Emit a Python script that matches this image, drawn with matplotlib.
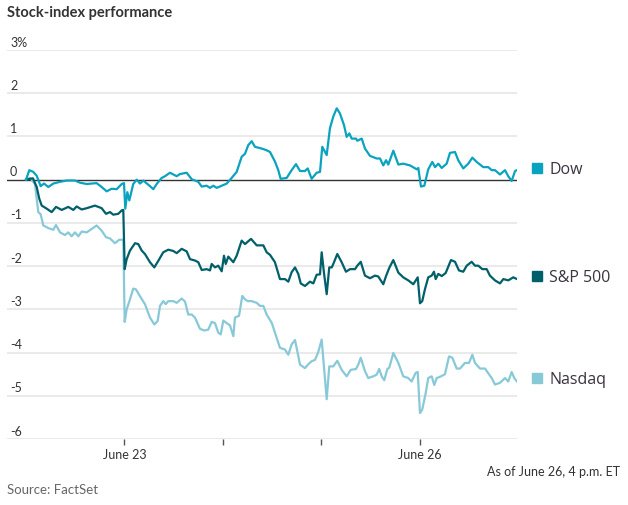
import matplotlib
matplotlib.use("Agg")
import matplotlib.pyplot as plt
import matplotlib.transforms as mtransforms
import numpy as np

# x positions are in trading days since the June 22 close (ticks at day boundaries)
dow_t = [0.0, 0.034, 0.074, 0.109, 0.149, 0.183, 0.227, 0.277, 0.346, 0.414,
         0.498, 0.549, 0.617, 0.718, 0.769, 0.820, 0.871, 0.922, 0.973, 0.996,
         1.009, 1.030, 1.050, 1.090, 1.125, 1.159, 1.192, 1.260, 1.294, 1.328,
         1.379, 1.413, 1.463, 1.532, 1.565, 1.633, 1.684, 1.751, 1.786, 1.836,
         1.870, 1.904, 1.938, 1.989, 2.040, 2.090, 2.141, 2.192, 2.226, 2.259,
         2.294, 2.327, 2.395, 2.446, 2.480, 2.530, 2.564, 2.588, 2.649, 2.700,
         2.744, 2.785, 2.835, 2.863, 2.903, 2.954, 2.988, 3.011, 3.056, 3.089,
         3.123, 3.158, 3.191, 3.232, 3.259, 3.286, 3.310, 3.354, 3.367, 3.412,
         3.445, 3.496, 3.564, 3.598, 3.631, 3.659, 3.682, 3.733, 3.784, 3.834,
         3.902, 3.971, 3.987, 4.014, 4.048, 4.088, 4.129, 4.157, 4.190, 4.225,
         4.275, 4.309, 4.360, 4.393, 4.444, 4.495, 4.536, 4.580, 4.647, 4.698,
         4.733, 4.766, 4.817, 4.868, 4.901, 4.936, 4.970, 4.990]
dow_v = [0.0, 0.22, 0.18, 0.09, -0.15, -0.09, -0.17, -0.09, -0.05, -0.02,
         -0.02, -0.07, -0.10, -0.08, -0.17, -0.27, -0.21, -0.22, -0.10, -0.08,
         -0.67, -0.29, -0.48, -0.10, 0.0, -0.09, -0.02, -0.15, -0.22, -0.10,
         0.04, 0.08, 0.16, 0.08, 0.13, 0.16, 0.01, -0.05, -0.16, -0.14,
         -0.19, -0.14, -0.19, -0.14, -0.09, 0.04, 0.18, 0.53, 0.60, 0.80,
         0.89, 0.76, 0.72, 0.68, 0.64, 0.42, 0.22, 0.02, 0.04, 0.22,
         0.36, 0.20, 0.20, 0.26, 0.02, 0.16, 0.18, 0.76, 0.57, 1.19,
         1.46, 1.65, 1.53, 1.26, 0.99, 1.07, 0.95, 0.95, 0.90, 0.95,
         0.72, 0.55, 0.49, 0.49, 0.33, 0.45, 0.35, 0.67, 0.35, 0.37,
         0.33, 0.24, 0.27, -0.16, -0.14, 0.24, 0.41, 0.29, 0.37, 0.27,
         0.37, 0.62, 0.64, 0.45, 0.26, 0.37, 0.51, 0.41, 0.29, 0.29,
         0.22, 0.22, 0.12, 0.22, 0.08, -0.03, 0.20, 0.22]

spx_t = [0.0, 0.041, 0.071, 0.109, 0.135, 0.160, 0.210, 0.261, 0.305, 0.363,
         0.430, 0.481, 0.515, 0.566, 0.617, 0.701, 0.769, 0.813, 0.854, 0.887,
         0.938, 0.973, 0.989, 1.003, 1.023, 1.057, 1.108, 1.141, 1.176, 1.209,
         1.260, 1.304, 1.344, 1.395, 1.446, 1.497, 1.532, 1.582, 1.633, 1.667,
         1.717, 1.751, 1.786, 1.836, 1.870, 1.887, 1.921, 1.954, 1.989, 2.012,
         2.030, 2.056, 2.107, 2.141, 2.192, 2.226, 2.287, 2.345, 2.412, 2.446,
         2.480, 2.530, 2.581, 2.632, 2.666, 2.700, 2.734, 2.767, 2.792, 2.835,
         2.886, 2.920, 2.954, 2.988, 3.005, 3.028, 3.056, 3.082, 3.107, 3.123,
         3.164, 3.208, 3.252, 3.293, 3.344, 3.367, 3.402, 3.445, 3.496, 3.547,
         3.580, 3.631, 3.659, 3.692, 3.733, 3.784, 3.834, 3.885, 3.936, 3.981,
         4.004, 4.027, 4.055, 4.088, 4.123, 4.146, 4.164, 4.190, 4.225, 4.265,
         4.319, 4.360, 4.400, 4.444, 4.479, 4.529, 4.563, 4.597, 4.637, 4.682,
         4.715, 4.766, 4.817, 4.851, 4.901, 4.952, 4.990]
spx_v = [0.0, 0.02, 0.03, -0.17, -0.44, -0.60, -0.67, -0.75, -0.63, -0.70,
         -0.63, -0.70, -0.62, -0.69, -0.66, -0.60, -0.66, -0.79, -0.75, -0.81,
         -0.79, -0.71, -0.70, -2.07, -1.84, -1.64, -1.47, -1.49, -1.64, -1.72,
         -1.91, -2.03, -1.88, -1.68, -1.62, -1.65, -1.70, -1.60, -1.66, -1.84,
         -1.87, -1.91, -2.09, -2.07, -2.10, -1.95, -2.03, -1.99, -2.12, -1.76,
         -1.95, -1.78, -1.91, -1.76, -1.41, -1.49, -1.37, -1.52, -1.52, -1.68,
         -1.74, -1.91, -2.30, -2.30, -2.36, -2.14, -2.03, -2.18, -2.40, -2.46,
         -2.36, -2.40, -2.20, -2.19, -1.68, -2.15, -2.65, -2.03, -2.03, -1.95,
         -1.72, -1.91, -2.13, -2.07, -2.07, -1.99, -1.90, -2.22, -2.28, -2.22,
         -2.24, -2.42, -2.23, -2.04, -1.86, -2.15, -2.26, -2.33, -2.42, -2.26,
         -2.86, -2.81, -2.53, -2.26, -2.22, -2.13, -2.30, -2.18, -2.23, -2.16,
         -1.86, -1.90, -2.10, -2.13, -1.99, -1.90, -1.99, -1.99, -2.07, -2.07,
         -2.22, -2.33, -2.40, -2.30, -2.33, -2.26, -2.30]

ndq_t = [0.0, 0.041, 0.091, 0.125, 0.149, 0.176, 0.227, 0.277, 0.305, 0.346,
         0.396, 0.430, 0.464, 0.498, 0.532, 0.566, 0.617, 0.668, 0.718, 0.769,
         0.813, 0.854, 0.904, 0.948, 0.989, 1.003, 1.023, 1.057, 1.090, 1.118,
         1.159, 1.209, 1.260, 1.304, 1.338, 1.362, 1.395, 1.420, 1.446, 1.497,
         1.532, 1.582, 1.616, 1.649, 1.684, 1.717, 1.768, 1.812, 1.852, 1.887,
         1.921, 1.954, 1.979, 2.005, 2.040, 2.073, 2.107, 2.124, 2.165, 2.198,
         2.226, 2.253, 2.294, 2.345, 2.378, 2.412, 2.446, 2.497, 2.530, 2.581,
         2.632, 2.666, 2.700, 2.734, 2.785, 2.835, 2.869, 2.903, 2.937, 2.970,
         3.005, 3.028, 3.056, 3.082, 3.123, 3.164, 3.208, 3.259, 3.300, 3.354,
         3.377, 3.402, 3.445, 3.478, 3.529, 3.564, 3.590, 3.615, 3.641, 3.672,
         3.692, 3.733, 3.784, 3.834, 3.885, 3.919, 3.960, 3.981, 4.004, 4.027,
         4.062, 4.088, 4.123, 4.149, 4.174, 4.218, 4.258, 4.299, 4.333, 4.377,
         4.411, 4.461, 4.502, 4.536, 4.563, 4.614, 4.665, 4.698, 4.733, 4.766,
         4.817, 4.868, 4.901, 4.936, 4.962, 4.990]
ndq_v = [0.0, 0.04, -0.10, -0.75, -0.80, -1.06, -1.12, -1.16, -1.05, -1.22,
         -1.28, -1.22, -1.31, -1.22, -1.31, -1.20, -1.22, -1.14, -1.06, -1.18,
         -1.33, -1.36, -1.47, -1.39, -1.39, -3.29, -3.00, -2.77, -2.52, -2.54,
         -2.70, -2.88, -3.19, -3.35, -3.27, -2.92, -2.81, -2.88, -2.81, -2.81,
         -2.85, -2.75, -2.82, -3.12, -3.12, -3.19, -3.45, -3.49, -3.47, -3.29,
         -3.32, -3.54, -3.58, -3.26, -3.32, -3.37, -3.62, -3.19, -3.15, -2.69,
         -2.77, -2.81, -2.81, -2.85, -2.92, -2.92, -3.12, -3.31, -3.54, -3.89,
         -3.93, -4.05, -3.81, -3.71, -4.28, -4.36, -4.27, -4.20, -4.17, -3.99,
         -3.70, -4.32, -5.08, -4.32, -4.32, -4.19, -4.40, -4.55, -4.40, -4.38,
         -4.28, -4.12, -4.43, -4.59, -4.55, -4.51, -4.38, -4.55, -4.64, -4.38,
         -4.35, -4.01, -4.24, -4.55, -4.59, -4.67, -4.47, -4.45, -5.40, -5.32,
         -4.94, -4.59, -4.55, -4.75, -4.59, -4.55, -4.50, -4.09, -4.12, -4.37,
         -4.37, -4.24, -4.24, -4.05, -4.24, -4.37, -4.37, -4.48, -4.59, -4.74,
         -4.70, -4.59, -4.67, -4.45, -4.59, -4.67]

series_names = ["Dow", "S&P 500", "Nasdaq"]
series_colors = ["#0aa3bf", "#00606a", "#88c9d8"]

y_ticks = [3, 2, 1, 0, -1, -2, -3, -4, -5, -6]
y_labels = ["3%", "2", "1", "0", "-1", "-2", "-3", "-4", "-5", "-6"]
x_ticks = [1, 2, 3, 4]
x_labels = ["June 23", "", "", "June 26"]

small_font = ["Lato", "DejaVu Sans"]
text_dark = "#333333"

fig = plt.figure(figsize=(6.28, 5.05), dpi=100)
ax = fig.add_axes([7 / 628, 66 / 505, 510 / 628, 389 / 505])
ax.set_xlim(-0.193, 4.99)
ax.set_ylim(-6, 3)

for s in ax.spines.values():
    s.set_visible(False)

# gridlines
for v in y_ticks:
    if v == 0:
        ax.axhline(v, color="#333333", lw=1.0, zorder=2)
    else:
        ax.axhline(v, color="#e8e8e8", lw=1.3, zorder=1)

# y labels sit above the gridlines, inside the plot
trans = mtransforms.blended_transform_factory(ax.transAxes, ax.transData)
for v, lab in zip(y_ticks, y_labels):
    ax.text(0.006, v + 0.08, lab, transform=trans, ha="left", va="baseline",
            fontsize=9, color=text_dark, family=small_font)
ax.set_yticks([])

ax.set_xticks(x_ticks)
ax.set_xticklabels(x_labels, fontsize=9, color=text_dark, family=small_font)
ax.tick_params(axis="x", length=4, width=1, color="#555555", pad=3)

lines = [(ndq_t, ndq_v, 2), (spx_t, spx_v, 1), (dow_t, dow_v, 0)]
for t, v, i in lines:
    ax.plot(t, v, color=series_colors[i], lw=1.6, zorder=3 + (2 - i),
            solid_joinstyle="round")

# end labels with square swatches, placed near each series' last value
label_pos = [dow_v[-1] + 0.06, spx_v[-1] + 0.08, ndq_v[-1] + 0.07]
for name, col, yv in zip(series_names, series_colors, label_pos):
    ax.plot([1.04], [yv], marker="s", ms=7.3, color=col, transform=trans,
            clip_on=False, linestyle="none")
    ax.text(1.063, yv, name, transform=trans, ha="left", va="center_baseline",
            fontsize=11.5, color="#3a3340", family=["Open Sans", "DejaVu Sans"])

fig.text(7 / 628, 1 - 13 / 505, "Stock-index performance", ha="left", va="center",
         fontsize=10.5, fontweight="bold", color=text_dark, family=small_font)
fig.text(620 / 628, 1 - 472 / 505, "As of June 26, 4 p.m. ET", ha="right", va="center",
         fontsize=9, color=text_dark, family=small_font)
fig.text(7 / 628, 1 - 490 / 505, "Source: FactSet", ha="left", va="center",
         fontsize=9.5, color="#666666", family=small_font)

fig.savefig("out.png", dpi=100)
